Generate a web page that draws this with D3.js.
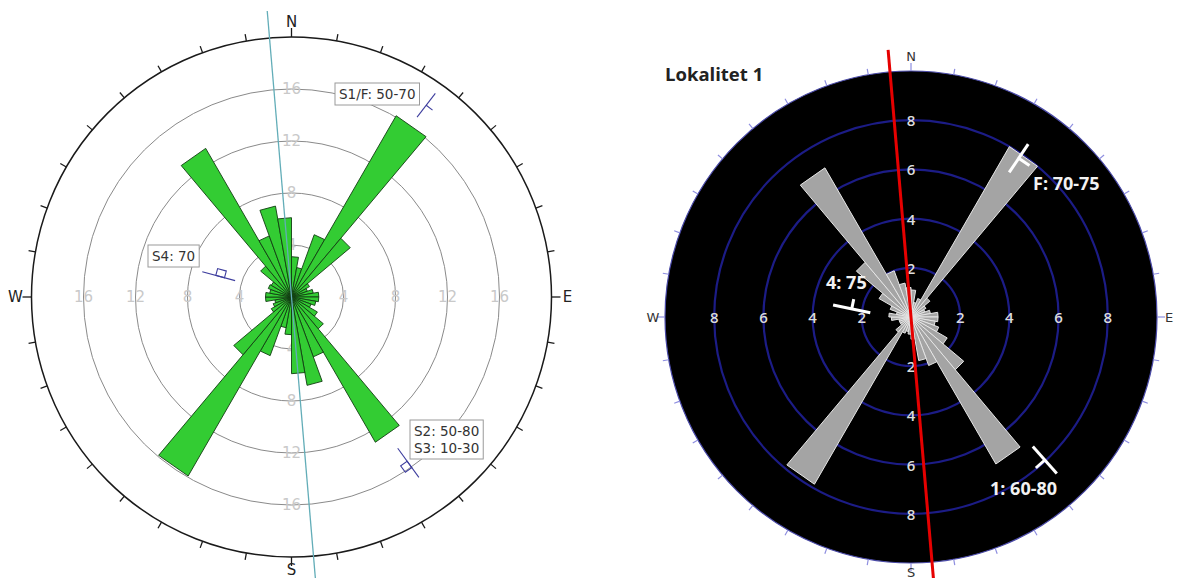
<!DOCTYPE html>
<html>
<head>
<meta charset="utf-8">
<script src="https://cdn.jsdelivr.net/npm/d3@7"></script>
<style>
  body { margin: 0; background: #fff; }
  svg { display: block; }
</style>
</head>
<body>
<div id="vis"></div>
<script>
// Constants for the frame
const FRAME_WIDTH = 1179;
const FRAME_HEIGHT = 578;

// Bin start angles (degrees, 10 degree classes)
const BINS = [0, 10, 20, 30, 40, 50, 60, 70, 80, 90, 100, 110,
              120, 130, 140, 150, 160, 170, 180, 190, 200, 210, 220, 230,
              240, 250, 260, 270, 280, 290, 300, 310, 320, 330, 340, 350];

// Left rose (green) counts per bin
const LEFT_COUNTS = [3.1, 2.3, 5.1, 16.1, 5.9, 1.6, 1.3, 1.7, 2.1, 2.1, 1.9, 1.6,
                     2.3, 3.2, 12.9, 4.9, 6.9, 5.9, 2.9, 2.4, 4.8, 15.9, 5.8, 1.8,
                     1.5, 1.3, 2.0, 2.0, 1.7, 1.9, 1.8, 3.1, 13.2, 5.0, 7.1, 6.1];

// Right rose (grey) counts per bin
const RIGHT_COUNTS = [1.1, 0.6, 0.8, 8.0, 1.0, 0.7, 0.6, 0.8, 1.1, 1.1, 1.0, 1.2,
                      1.7, 2.8, 6.9, 2.1, 1.8, 0.9, 0.7, 0.6, 0.7, 7.85, 0.8, 0.5,
                      0.5, 0.5, 0.8, 0.9, 0.6, 0.9, 1.5, 2.9, 7.0, 2.0, 1.4, 1.2];

// Ring tick labels
const LEFT_RINGS = [4, 8, 12, 16];
const RIGHT_RINGS = [2, 4, 6, 8];
const COMPASS = ["N", "E", "S", "W"];
const COMPASS_ANGLES = [0, 90, 180, 270];

// Annotation texts
const LEFT_NOTES = [["S1/F: 50-70"], ["S4: 70"], ["S2: 50-80", "S3: 10-30"]];
const RIGHT_NOTES = ["F: 70-75", "4: 75", "1: 60-80"];
const TITLE = "Lokalitet 1";

// Frame
const FRAME = d3.select("#vis")
                .append("svg")
                  .attr("width", FRAME_WIDTH)
                  .attr("height", FRAME_HEIGHT);

FRAME.append("rect")
      .attr("width", FRAME_WIDTH)
      .attr("height", FRAME_HEIGHT)
      .attr("fill", "#fff");

// angle scale shared by both roses
const A_SCALE = d3.scaleLinear().domain([0, 360]).range([0, 2 * Math.PI]);

function polar(r, deg) {
  const t = A_SCALE(deg);
  return [r * Math.sin(t), -r * Math.cos(t)];
}

// petal as a closed triangle (center, two corners)
function petalPath(rScale) {
  return d3.lineRadial()
           .angle((p) => A_SCALE(p[0]))
           .radius((p) => rScale(p[1]))
           .curve(d3.curveLinearClosed);
}

// ---------------- LEFT ROSE ----------------
const CX1 = 291.5, CY1 = 297;
const R1 = d3.scaleLinear().domain([0, 20]).range([0, 260]);
const G1 = FRAME.append("g").attr("transform", "translate(" + CX1 + "," + CY1 + ")");

// rings
G1.selectAll(".ring")
  .data(LEFT_RINGS)
  .enter()
  .append("circle")
    .attr("r", (d) => R1(d))
    .attr("fill", "none")
    .attr("stroke", "#8a8a8a")
    .attr("stroke-width", 1);

// outer circle
G1.append("circle")
    .attr("r", R1(20))
    .attr("fill", "none")
    .attr("stroke", "#1a1a1a")
    .attr("stroke-width", 1.5);

// outer ticks every 10 degrees
G1.selectAll(".otick")
  .data(BINS)
  .enter()
  .append("line")
    .attr("x1", (d) => polar(R1(20), d)[0])
    .attr("y1", (d) => polar(R1(20), d)[1])
    .attr("x2", (d) => polar(R1(20) + (d % 90 === 0 ? 9 : 7), d)[0])
    .attr("y2", (d) => polar(R1(20) + (d % 90 === 0 ? 9 : 7), d)[1])
    .attr("stroke", "#1a1a1a")
    .attr("stroke-width", 1.3);

// compass letters
const LEFT_COMPASS_OFF = [15, 16, 12.5, 16];
G1.selectAll(".compass")
  .data(COMPASS)
  .enter()
  .append("text")
    .attr("x", (d, i) => polar(R1(20) + LEFT_COMPASS_OFF[i], COMPASS_ANGLES[i])[0])
    .attr("y", (d, i) => polar(R1(20) + LEFT_COMPASS_OFF[i], COMPASS_ANGLES[i])[1])
    .attr("text-anchor", "middle")
    .attr("dominant-baseline", "central")
    .attr("font-family", "DejaVu Sans, sans-serif")
    .attr("font-size", "15px")
    .attr("fill", "#222")
    .text((d) => d);

// ring labels on the four axes
const LEFT_LABELS = [];
COMPASS_ANGLES.forEach((a) => LEFT_RINGS.forEach((v) => LEFT_LABELS.push({a: a, v: v})));
G1.selectAll(".rlab")
  .data(LEFT_LABELS)
  .enter()
  .append("text")
    .attr("x", (d) => polar(R1(d.v), d.a)[0])
    .attr("y", (d) => polar(R1(d.v), d.a)[1])
    .attr("text-anchor", "middle")
    .attr("dominant-baseline", "central")
    .attr("font-family", "DejaVu Sans, sans-serif")
    .attr("font-size", "15px")
    .attr("fill", "#c9c9c9")
    .text((d) => d.v);

// petals
const LINE1 = petalPath(R1);
G1.selectAll(".petal")
  .data(BINS)
  .enter()
  .append("path")
    .attr("d", (d, i) => LINE1([[d, 0], [d, LEFT_COUNTS[i]], [d + 10, LEFT_COUNTS[i]]]))
    .attr("fill", "#33cc33")
    .attr("stroke", "#123d12")
    .attr("stroke-width", 0.9)
    .attr("stroke-linejoin", "round");

// teal reference line
G1.append("line")
    .attr("x1", polar(287, 355.15)[0])
    .attr("y1", polar(287, 355.15)[1])
    .attr("x2", polar(-290, 355.15)[0])
    .attr("y2", polar(-290, 355.15)[1])
    .attr("stroke", "#62adb8")
    .attr("stroke-width", 1.3);

// annotation boxes
const LEFT_BOX_POS = [[339, 99], [152, 261], [414, 436]];
LEFT_NOTES.forEach((lines, i) => {
  const g = FRAME.append("g");
  const rect = g.append("rect");
  const txt = g.append("text")
                .attr("font-family", "DejaVu Sans, sans-serif")
                .attr("font-size", "13.5px")
                .attr("fill", "#333");
  lines.forEach((s, j) => {
    txt.append("tspan")
        .attr("x", LEFT_BOX_POS[i][0])
        .attr("y", LEFT_BOX_POS[i][1] + j * 17)
        .text(s);
  });
  const bb = txt.node().getBBox();
  rect.attr("x", bb.x - 4)
      .attr("y", bb.y - 3)
      .attr("width", bb.width + 8)
      .attr("height", bb.height + 6)
      .attr("fill", "#fff")
      .attr("stroke", "#9a9a9a")
      .attr("stroke-width", 1);
});

// strike / dip symbols (left)
const SYM_COLOR = "#3d3d9e";
const s1 = FRAME.append("g").attr("transform", "translate(426.2,105.3) rotate(-52.5)");
s1.append("line").attr("x1", -15).attr("x2", 15).attr("y1", 0).attr("y2", 0)
  .attr("stroke", SYM_COLOR).attr("stroke-width", 1.1);
s1.append("line").attr("x1", 0).attr("x2", 0).attr("y1", 0).attr("y2", 8)
  .attr("stroke", SYM_COLOR).attr("stroke-width", 1.1);

const s4 = FRAME.append("g").attr("transform", "translate(218.7,276.2) rotate(15)");
s4.append("line").attr("x1", -17).attr("x2", 17).attr("y1", 0).attr("y2", 0)
  .attr("stroke", SYM_COLOR).attr("stroke-width", 1.1);
s4.append("rect").attr("x", -3).attr("y", -7).attr("width", 9).attr("height", 7)
  .attr("fill", "none").attr("stroke", SYM_COLOR).attr("stroke-width", 1.1);

const s2 = FRAME.append("g").attr("transform", "translate(408.3,462.8) rotate(54)");
s2.append("line").attr("x1", -18).attr("x2", 18).attr("y1", 0).attr("y2", 0)
  .attr("stroke", SYM_COLOR).attr("stroke-width", 1.1);
s2.append("rect").attr("x", -2).attr("y", 0).attr("width", 8).attr("height", 8)
  .attr("fill", "none").attr("stroke", SYM_COLOR).attr("stroke-width", 1.1);

// ---------------- RIGHT ROSE ----------------
const CX2 = 911, CY2 = 317;
const R2 = d3.scaleLinear().domain([0, 10]).range([0, 246]);
const G2 = FRAME.append("g").attr("transform", "translate(" + CX2 + "," + CY2 + ")");

// title
FRAME.append("text")
      .attr("x", 665)
      .attr("y", 81)
      .attr("font-family", "Open Sans, sans-serif")
      .attr("font-weight", "bold")
      .attr("font-size", "18.5px")
      .attr("fill", "#222")
      .text(TITLE);

// black disk
G2.append("circle")
    .attr("r", R2(10))
    .attr("fill", "#000")
    .attr("stroke", "#4a4aa8")
    .attr("stroke-width", 1.2);

// outer ticks
G2.selectAll(".otick")
  .data(BINS)
  .enter()
  .append("line")
    .attr("x1", (d) => polar(R2(10), d)[0])
    .attr("y1", (d) => polar(R2(10), d)[1])
    .attr("x2", (d) => polar(R2(10) + (d % 90 === 0 ? 8 : 6), d)[0])
    .attr("y2", (d) => polar(R2(10) + (d % 90 === 0 ? 8 : 6), d)[1])
    .attr("stroke", "#8e8ee0")
    .attr("stroke-width", 1.2);

// compass letters
const RIGHT_COMPASS_OFF = [15, 12, 9, 12];
G2.selectAll(".compass")
  .data(COMPASS)
  .enter()
  .append("text")
    .attr("x", (d, i) => polar(R2(10) + RIGHT_COMPASS_OFF[i], COMPASS_ANGLES[i])[0])
    .attr("y", (d, i) => polar(R2(10) + RIGHT_COMPASS_OFF[i], COMPASS_ANGLES[i])[1])
    .attr("text-anchor", "middle")
    .attr("dominant-baseline", "central")
    .attr("font-family", "DejaVu Sans, sans-serif")
    .attr("font-size", "13px")
    .attr("fill", "#333")
    .text((d) => d);

// blue rings
G2.selectAll(".ring")
  .data(RIGHT_RINGS)
  .enter()
  .append("circle")
    .attr("r", (d) => R2(d))
    .attr("fill", "none")
    .attr("stroke", "#1c1c86")
    .attr("stroke-width", 2.2);

// ring labels
const RIGHT_LABELS = [];
COMPASS_ANGLES.forEach((a) => RIGHT_RINGS.forEach((v) => RIGHT_LABELS.push({a: a, v: v})));
G2.selectAll(".rlab")
  .data(RIGHT_LABELS)
  .enter()
  .append("text")
    .attr("x", (d) => polar(R2(d.v), d.a)[0])
    .attr("y", (d) => polar(R2(d.v), d.a)[1])
    .attr("text-anchor", "middle")
    .attr("dominant-baseline", "central")
    .attr("font-family", "Open Sans, sans-serif")
    .attr("font-weight", 600)
    .attr("font-size", "15px")
    .attr("fill", "#dcdcdc")
    .text((d) => d.v);

// petals
const LINE2 = petalPath(R2);
G2.selectAll(".petal")
  .data(BINS)
  .enter()
  .append("path")
    .attr("d", (d, i) => LINE2([[d, 0], [d, RIGHT_COUNTS[i]], [d + 10, RIGHT_COUNTS[i]]]))
    .attr("fill", "#a4a4a4")
    .attr("stroke", "#e6e6e6")
    .attr("stroke-width", 1)
    .attr("stroke-linejoin", "round");

// red reference line
G2.append("line")
    .attr("x1", polar(268, 355.1)[0])
    .attr("y1", polar(268, 355.1)[1])
    .attr("x2", polar(-275, 355.1)[0])
    .attr("y2", polar(-275, 355.1)[1])
    .attr("stroke", "#e60000")
    .attr("stroke-width", 3);

// white labels
const RIGHT_NOTE_POS = [[1033, 190], [826, 289], [990, 495]];
FRAME.selectAll(".rnote")
  .data(RIGHT_NOTES)
  .enter()
  .append("text")
    .attr("x", (d, i) => RIGHT_NOTE_POS[i][0])
    .attr("y", (d, i) => RIGHT_NOTE_POS[i][1])
    .attr("font-family", "Open Sans, sans-serif")
    .attr("font-weight", "bold")
    .attr("font-size", "18px")
    .attr("fill", "#f2f2f2")
    .text((d) => d);

// white strike / dip symbols
const W_SYMS = [
  {x: 1018.7, y: 158.3, rot: -56, len: 17, tick: 13},
  {x: 851.7, y: 308.9, rot: 11.8, len: 19, tick: -10},
  {x: 1044.8, y: 460, rot: 48.2, len: 18, tick: 12}
];
W_SYMS.forEach((s) => {
  const g = FRAME.append("g").attr("transform", "translate(" + s.x + "," + s.y + ") rotate(" + s.rot + ")");
  g.append("line").attr("x1", -s.len).attr("x2", s.len).attr("y1", 0).attr("y2", 0)
    .attr("stroke", "#fff").attr("stroke-width", 3);
  g.append("line").attr("x1", 0).attr("x2", 0).attr("y1", 0).attr("y2", s.tick)
    .attr("stroke", "#fff").attr("stroke-width", 3);
});
</script>
</body>
</html>
